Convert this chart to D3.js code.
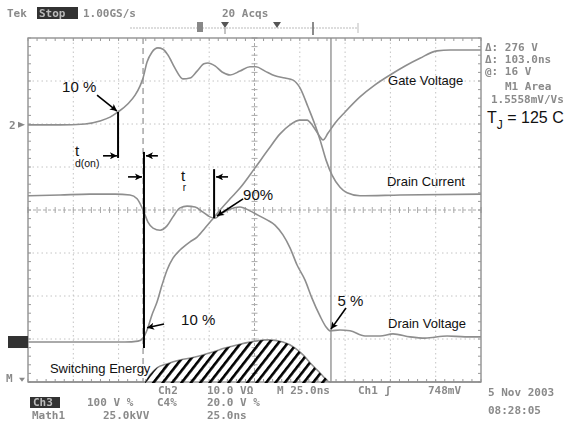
<!DOCTYPE html>
<html>
<head>
<meta charset="utf-8">
<script src="https://cdn.jsdelivr.net/npm/d3@7"></script>
<style>
  body { margin: 0; background: #fff; }
  svg { display: block; }
  .scope { font-family: "DejaVu Sans Mono", monospace; font-weight: bold; font-size: 11px; fill: #8a8a8a; }
  .note { font-family: Arial, "Liberation Sans", sans-serif; fill: #111; }
</style>
</head>
<body>
<div id="chart"></div>
<script>
// time axis in ns (25 ns / div), vertical in divisions
const timeDomain = [0, 250];
const divDomain = [-4, 4];
const divTicks = d3.range(-4, 5, 1);
const timeTicks = d3.range(0, 251, 25);

// traces: [ns, div]
const drainCurrent = [[0,1.98],[17.7,1.98],[31.5,2.0],[39.7,2.07],[45.3,2.16],[49.7,2.28],[55.2,2.47],[59.1,2.67],[61.8,2.88],[63.5,3.07],[65.7,3.44],[68.4,3.67],[71.7,3.77],[74.5,3.74],[77.3,3.6],[81.1,3.3],[85.5,3.05],[89.4,3.07],[93.3,3.23],[97.1,3.4],[99.3,3.42],[103.2,3.35],[107.1,3.21],[111.5,3.14],[117,3.23],[122.5,3.33],[125.8,3.33],[130.8,3.23],[136.3,3.12],[141.8,3.07],[146.3,3.02],[150.1,2.84],[154.5,2.4],[158.4,1.98],[161.2,1.63],[164.5,1.16],[167.8,0.81],[172.2,0.53],[176.1,0.4],[183.2,0.33],[205.3,0.35],[250,0.37]];
const gateVoltage = [[0,-3.07],[39.7,-3.07],[53.5,-3.07],[60.7,-3.05],[63.5,-2.98],[65.7,-2.79],[68.4,-2.44],[71.2,-2.14],[74,-1.74],[76.7,-1.4],[80,-1.12],[83.9,-0.93],[89.4,-0.74],[93.3,-0.63],[97.7,-0.42],[101.5,-0.23],[106,0],[111.5,0.26],[117,0.51],[125.3,0.98],[132.5,1.4],[139.1,1.77],[144.6,1.98],[150.1,2.09],[154,2.09],[157.3,1.95],[161.2,1.7],[162.8,1.63],[165.6,1.79],[169.4,2.02],[175,2.28],[183.2,2.63],[191.5,2.91],[199.8,3.14],[208.1,3.35],[216.3,3.53],[225.7,3.7],[232.9,3.72],[250,3.72]];
const drainVoltage = [[0,0.33],[17.7,0.35],[34.2,0.37],[48,0.37],[56.3,0.35],[60.2,0.26],[63.5,0],[66.2,-0.28],[69,-0.42],[72.9,-0.47],[76.7,-0.37],[80,-0.16],[83.9,0.05],[87.8,0.09],[92.2,0.07],[96.6,-0.05],[100.4,-0.16],[103.2,-0.19],[106.5,-0.09],[110.4,0],[117,0.07],[122.5,-0.02],[126.9,-0.12],[131.9,-0.23],[136.3,-0.35],[140.7,-0.58],[144.6,-0.88],[148.5,-1.28],[152.9,-1.63],[156.7,-2.05],[161.2,-2.47],[164.5,-2.72],[166.7,-2.81],[172.2,-2.79],[177.7,-2.81],[186,-2.93],[194.3,-2.93],[201.4,-2.88],[210.8,-2.95],[219.1,-2.98],[231.3,-2.93],[241.2,-2.95],[250,-2.95]];
const switchingEnergy = [[0,-4],[64.6,-4],[67.3,-3.84],[71.2,-3.67],[76.7,-3.58],[83.9,-3.49],[92.2,-3.42],[102.1,-3.3],[108.7,-3.21],[117,-3.12],[125.3,-3.05],[132.5,-3.02],[140.7,-3.07],[147.4,-3.21],[151.8,-3.37],[156.7,-3.6],[161.2,-3.79],[166.7,-4],[250,-4]];

// cursors
const cursorSolid = 167.2;
const cursorDashed = 63.5;

// annotation markers: [ns, div top, div bottom]
const markers = [[49.7,2.28,1.21],[64.0,1.35,-3.21],[102.7,0.95,-0.19]];
// arrows: [ns from, div from, ns to, div to]
const arrows = [[38.1,2.67,49.1,2.3],[41.4,1.26,49.1,1.26],[71.7,1.26,65.1,1.26],[55.2,0.77,62.9,0.77],[110.4,0.77,103.8,0.77],[118.7,0.26,104.3,-0.14],[75.1,-2.65,65.7,-2.74],[175.5,-2.28,167.2,-2.77]];
// annotation text: [ns, div, text, size]
const notes = [[18.8,2.74,"10 %",15],[84.5,-2.67,"10 %",15],[118.7,0.23,"90%",15],[170.8,-2.23,"5 %",15],[12.1,-3.79,"Switching Energy",13],[198.7,2.91,"Gate Voltage",13],[198.1,0.56,"Drain Current",13],[198.7,-2.74,"Drain Voltage",13]];

const W = 582, H = 426;
const svg = d3.select("#chart").append("svg")
    .attr("width", W)
    .attr("height", H);

const x = d3.scaleLinear().domain(timeDomain).range([28, 481]);
const y = d3.scaleLinear().domain(divDomain).range([382, 38]);

const defs = svg.append("defs");
defs.append("filter").attr("id", "soft")
    .append("feGaussianBlur").attr("stdDeviation", 0.45);
const hatch = defs.append("pattern")
    .attr("id", "hatch")
    .attr("patternUnits", "userSpaceOnUse")
    .attr("width", 7.4).attr("height", 10)
    .attr("patternTransform", "rotate(38)");
hatch.append("rect").attr("width", 2.6).attr("height", 10).attr("fill", "#000");
defs.append("marker")
    .attr("id", "head")
    .attr("markerUnits", "userSpaceOnUse")
    .attr("viewBox", "0 0 10 10")
    .attr("refX", 10).attr("refY", 5)
    .attr("markerWidth", 8).attr("markerHeight", 7)
    .attr("orient", "auto")
    .append("path").attr("d", "M0,0L10,5L0,10L2.5,5z").attr("fill", "#000");

const screen = svg.append("g").attr("filter", "url(#soft)");

// grid
screen.selectAll(".gx").data(timeTicks.slice(1, -1).filter(d => d !== 125)).enter().append("line")
    .attr("x1", d => x(d)).attr("x2", d => x(d))
    .attr("y1", y(4)).attr("y2", y(-4))
    .attr("stroke", "#c4c4c4").attr("stroke-dasharray", "1.5 3");
screen.selectAll(".gy").data(divTicks.slice(1, -1).filter(d => d !== 0)).enter().append("line")
    .attr("x1", x(0)).attr("x2", x(250))
    .attr("y1", d => y(d)).attr("y2", d => y(d))
    .attr("stroke", "#c4c4c4").attr("stroke-dasharray", "1.5 3");

// centre lines with minor ticks
screen.append("line").attr("x1", x(0)).attr("x2", x(250)).attr("y1", y(0)).attr("y2", y(0))
    .attr("stroke", "#aaa").attr("stroke-dasharray", "3 2");
screen.append("line").attr("x1", x(125)).attr("x2", x(125)).attr("y1", y(4)).attr("y2", y(-4))
    .attr("stroke", "#aaa").attr("stroke-dasharray", "3 2");
const minorT = d3.range(0, 251, 5);
const minorD = d3.range(-4, 4.01, 0.2);
screen.selectAll(".ct").data(minorT).enter().append("line")
    .attr("x1", d => x(d)).attr("x2", d => x(d))
    .attr("y1", y(0) - 3).attr("y2", y(0) + 3).attr("stroke", "#aaa");
screen.selectAll(".cv").data(minorD).enter().append("line")
    .attr("y1", d => y(d)).attr("y2", d => y(d))
    .attr("x1", x(125) - 3).attr("x2", x(125) + 3).attr("stroke", "#aaa");

// frame and edge ticks
screen.append("rect")
    .attr("x", x(0)).attr("y", y(4))
    .attr("width", x(250) - x(0)).attr("height", y(-4) - y(4))
    .attr("fill", "none").attr("stroke", "#888").attr("stroke-width", 1.3);
screen.selectAll(".tt").data(minorT).enter().append("line")
    .attr("x1", d => x(d)).attr("x2", d => x(d))
    .attr("y1", y(4)).attr("y2", y(4) + 3).attr("stroke", "#999");
screen.selectAll(".tb").data(minorT).enter().append("line")
    .attr("x1", d => x(d)).attr("x2", d => x(d))
    .attr("y1", y(-4)).attr("y2", y(-4) - 3).attr("stroke", "#999");
screen.selectAll(".tl").data(minorD).enter().append("line")
    .attr("y1", d => y(d)).attr("y2", d => y(d))
    .attr("x1", x(0)).attr("x2", x(0) + 3).attr("stroke", "#999");
screen.selectAll(".tr").data(minorD).enter().append("line")
    .attr("y1", d => y(d)).attr("y2", d => y(d))
    .attr("x1", x(250)).attr("x2", x(250) - 3).attr("stroke", "#999");

// cursors
screen.append("line").attr("x1", x(cursorSolid)).attr("x2", x(cursorSolid))
    .attr("y1", y(4)).attr("y2", y(-4)).attr("stroke", "#8a8a8a").attr("stroke-width", 1.3);
screen.append("line").attr("x1", x(cursorDashed)).attr("x2", x(cursorDashed))
    .attr("y1", y(4)).attr("y2", y(-4)).attr("stroke", "#999").attr("stroke-width", 1.3)
    .attr("stroke-dasharray", "6 4");

// hatched switching energy
const area = d3.area().x(d => x(d[0])).y0(y(-4) + 1).y1(d => y(d[1])).curve(d3.curveMonotoneX);
svg.append("path").datum(switchingEnergy.filter(d => d[0] >= 64 && d[0] <= 167))
    .attr("d", area).attr("fill", "url(#hatch)");

// traces
const line = d3.line().x(d => x(d[0])).y(d => y(d[1])).curve(d3.curveMonotoneX);
[drainCurrent, gateVoltage, drainVoltage, switchingEnergy].forEach(tr => {
    screen.append("path").datum(tr)
        .attr("d", line)
        .attr("fill", "none")
        .attr("stroke", "#8e8e8e")
        .attr("stroke-width", 1.6);
});

// black markers and arrows
svg.selectAll(".mk").data(markers).enter().append("line")
    .attr("x1", d => x(d[0])).attr("x2", d => x(d[0]))
    .attr("y1", d => y(d[1])).attr("y2", d => y(d[2]))
    .attr("stroke", "#000").attr("stroke-width", 2);
svg.selectAll(".ar").data(arrows).enter().append("line")
    .attr("x1", d => x(d[0])).attr("y1", d => y(d[1]))
    .attr("x2", d => x(d[2])).attr("y2", d => y(d[3]))
    .attr("stroke", "#000").attr("stroke-width", 1.6)
    .attr("marker-end", "url(#head)");

svg.selectAll(".nt").data(notes).enter().append("text")
    .attr("class", "note")
    .attr("x", d => x(d[0])).attr("y", d => y(d[1]))
    .style("font-size", d => d[3] + "px")
    .text(d => d[2]);

// t d(on), t r, T J
const td = svg.append("text").attr("class", "note").attr("x", x(25.9)).attr("y", y(1.26)).style("font-size", "15px");
td.append("tspan").text("t");
td.append("tspan").attr("x", x(25.9)).attr("dy", 11).style("font-size", "10.5px").text("d(on)");
const tr = svg.append("text").attr("class", "note").attr("x", x(84.5)).attr("y", y(0.67)).style("font-size", "15px");
tr.append("tspan").text("t");
tr.append("tspan").attr("x", x(85.4)).attr("dy", 10).style("font-size", "10px").text("r");
const tj = svg.append("text").attr("class", "note").attr("x", 487).attr("y", 123).style("font-size", "16px");
tj.append("tspan").text("T");
tj.append("tspan").attr("dy", 6).style("font-size", "12px").text("J");
tj.append("tspan").attr("dy", -6).text(" = 125 C");

// scope readouts
const info = svg.append("g").attr("class", "scope").attr("filter", "url(#soft)");
const readouts = [
    [7, 17, "Tek"], [83, 17, "1.00GS/s"], [222, 17, "20 Acqs"],
    [485, 51, "\u0394: 276 V"], [485, 63, "\u0394: 103.0ns"], [485, 75, "@: 16 V"],
    [505, 90, "M1 Area"], [491, 103, "1.5558mV/Vs"],
    [158, 394, "Ch2"], [207, 394, "10.0 V\u03A9"], [277, 394, "M 25.0ns"], [358, 394, "Ch1 \u0283"], [428, 394, "748mV"],
    [488, 396, "5 Nov 2003"], [488, 414, "08:28:05"],
    [87, 406, "100 V  %"], [157, 406, "C4%"], [207, 406, "20.0 V  %"],
    [32, 419, "Math1"], [103, 419, "25.0kVV"], [207, 419, "25.0ns"]
];
info.selectAll("text").data(readouts).enter().append("text")
    .attr("x", d => d[0]).attr("y", d => d[1]).text(d => d[2]);

// highlighted boxes
info.append("rect").attr("x", 37).attr("y", 7).attr("width", 41).attr("height", 12).attr("fill", "#333");
info.append("text").attr("x", 39).attr("y", 17).attr("fill", "#bbb").text("Stop");
info.append("rect").attr("x", 30).attr("y", 397).attr("width", 30).attr("height", 11).attr("fill", "#333");
info.append("text").attr("x", 33).attr("y", 406).attr("fill", "#bbb").text("Ch3");

// trigger/record bar
info.append("line").attr("x1", 130).attr("x2", 358).attr("y1", 28).attr("y2", 28)
    .attr("stroke", "#bbb").attr("stroke-dasharray", "2 1");
info.append("line").attr("x1", 358).attr("x2", 358).attr("y1", 23).attr("y2", 33).attr("stroke", "#bbb");
info.append("line").attr("x1", 313).attr("x2", 313).attr("y1", 22).attr("y2", 35).attr("stroke", "#666").attr("stroke-width", 1.5);
info.append("rect").attr("x", 197).attr("y", 22).attr("width", 6).attr("height", 10).attr("fill", "#888");
info.append("path").attr("d", "M221,22L229,22L225,28z").attr("fill", "#555");
info.append("line").attr("x1", 225).attr("x2", 225).attr("y1", 28).attr("y2", 34).attr("stroke", "#888");
info.append("path").attr("d", "M273,22L281,22L277,28z").attr("fill", "#555");

// channel ground markers on the left
info.append("text").attr("x", 9).attr("y", y(1.98) + 4).text("2");
info.append("path").attr("d", `M18,${y(1.98) - 3}L25,${y(1.98)}L18,${y(1.98) + 3}z`).attr("fill", "#888");
info.append("rect").attr("x", 8).attr("y", y(-3.07) - 6).attr("width", 20).attr("height", 12).attr("fill", "#333");
info.append("text").attr("x", 6).attr("y", y(-3.9) + 4).text("M");
info.append("path").attr("d", `M19,${y(-3.9)}L25,${y(-3.9)}L22,${y(-3.9) + 4}z`).attr("fill", "#888");
</script>
</body>
</html>
